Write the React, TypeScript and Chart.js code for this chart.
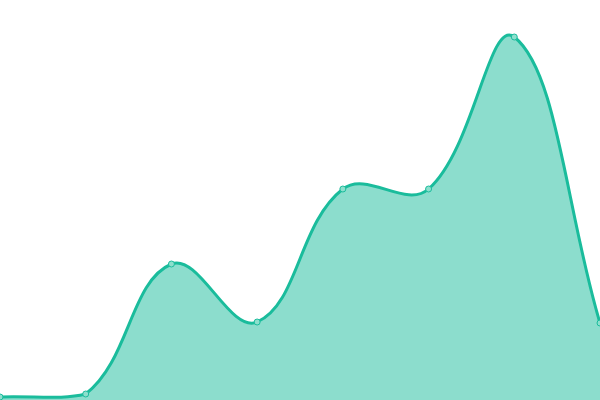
import { useEffect, useRef } from 'react';
import Chart from 'chart.js/auto';

const labels = ['1', '2', '3', '4', '5', '6', '7', '8'];
const values = [0.75, 1.5, 34, 19.5, 52.75, 52.75, 90.75, 19.25];

export default function App() {
  const canvasRef = useRef<HTMLCanvasElement>(null);
  const chartRef = useRef<Chart | null>(null);

  useEffect(() => {
    document.body.style.margin = '0';
    if (!canvasRef.current) return;
    if (chartRef.current) chartRef.current.destroy();

    chartRef.current = new Chart(canvasRef.current, {
      type: 'line',
      data: {
        labels,
        datasets: [{
          data: values,
          fill: true,
          tension: 0.4,
          borderColor: '#1abc9c',
          backgroundColor: 'rgba(26, 188, 156, 0.5)',
          borderWidth: 3,
          pointRadius: 3,
          pointBorderWidth: 1,
          pointBorderColor: '#1abc9c',
          pointBackgroundColor: '#8ddfcd',
        }],
      },
      options: {
        responsive: true,
        maintainAspectRatio: false,
        animation: false,
        layout: { padding: 0, autoPadding: false },
        scales: {
          x: { display: false },
          y: { display: false, min: 0, max: 100 },
        },
        plugins: {
          legend: { display: false },
          tooltip: { enabled: false },
        },
      },
    });

    return () => chartRef.current?.destroy();
  }, []);

  return (
    <div style={{ width: 600, height: 400, position: 'relative' }}>
      <canvas ref={canvasRef} />
    </div>
  );
}
